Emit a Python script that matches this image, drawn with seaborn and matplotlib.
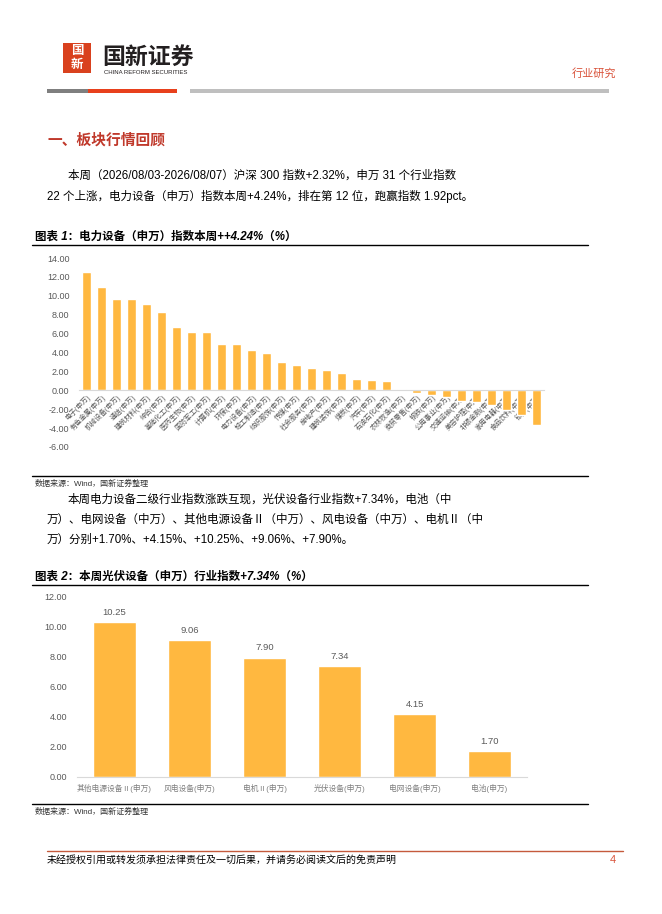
import matplotlib
matplotlib.use("Agg")
import matplotlib.pyplot as plt
import seaborn as sns
import pandas as pd
from matplotlib.patches import Rectangle
from matplotlib.lines import Line2D

# ---------------- data ----------------
industries = ["电子(申万)", "有色金属(申万)", "机械设备(申万)", "通信(申万)", "建筑材料(申万)",
              "综合(申万)", "基础化工(申万)", "医药生物(申万)", "国防军工(申万)", "计算机(申万)",
              "环保(申万)", "电力设备(申万)", "轻工制造(申万)", "纺织服饰(申万)", "传媒(申万)",
              "社会服务(申万)", "房地产(申万)", "建筑装饰(申万)", "煤炭(申万)", "汽车(申万)",
              "石油石化(申万)", "农林牧渔(申万)", "商贸零售(申万)", "钢铁(申万)", "公用事业(申万)",
              "交通运输(申万)", "美容护理(申万)", "非银金融(申万)", "家用电器(申万)", "食品饮料(申万)",
              "银行(申万)"]
weekly_chg = [12.47, 10.90, 9.65, 9.65, 9.13, 8.29, 6.72, 6.20, 6.20, 4.95,
              4.95, 4.24, 3.90, 2.96, 2.65, 2.34, 2.14, 1.82, 1.20, 1.09,
              0.99, 0.10, -0.32, -0.46, -0.67, -1.09, -1.20, -1.52, -2.08, -2.57,
              -3.63]
chart1_yticks = [-6, -4, -2, 0, 2, 4, 6, 8, 10, 12, 14]

sub_industries = ["其他电源设备Ⅱ(申万)", "风电设备(申万)", "电机Ⅱ(申万)",
                  "光伏设备(申万)", "电网设备(申万)", "电池(申万)"]
sub_chg = [10.25, 9.06, 7.90, 7.34, 4.15, 1.70]
chart2_yticks = [0, 2, 4, 6, 8, 10, 12]

# ---------------- style ----------------
sns.set_theme(style="white")
FONTS = ["Liberation Sans", "Noto Sans CJK SC", "DejaVu Sans"]
plt.rcParams["font.family"] = FONTS
plt.rcParams["axes.unicode_minus"] = False

BAR = "#FFB840"
GRAY_TXT = "#595959"
RED = "#D9411E"

W, H = 662, 914
fig = plt.figure(figsize=(W / 100, H / 100), dpi=100)


def fx(x):
    return x / W


def fy(y):
    return 1 - y / H


def hline(x0, x1, y, color="black", lw=1.0):
    fig.add_artist(Line2D([fx(x0), fx(x1)], [fy(y), fy(y)], color=color, lw=lw,
                          transform=fig.transFigure))


def rect(x0, y0, x1, y1, color):
    fig.add_artist(Rectangle((fx(x0), fy(y1)), fx(x1) - fx(x0), fy(y0) - fy(y1),
                             facecolor=color, edgecolor="none", transform=fig.transFigure))


def txt(x, y, s, size, color="black", weight="normal", ha="left", style="normal"):
    fig.text(fx(x), fy(y), s, fontsize=size, color=color, fontweight=weight,
             ha=ha, va="center", family=FONTS, style=style)


# ---------------- header ----------------
rect(63, 43, 91, 73, RED)
txt(77, 51, "国", 9, color="white", weight="bold", ha="center")
txt(77, 65, "新", 9, color="white", weight="bold", ha="center")
txt(102, 57, "国新证券", 16.5, color="#231F20", weight="bold")
txt(104, 73, "CHINA REFORM SECURITIES", 4.3, color="#231F20")
txt(616, 73, "行业研究", 8, color="#D9533B", ha="right")
rect(47, 89, 88, 93, "#7F7F7F")
rect(88, 89, 177, 93, "#E8401C")
rect(190, 89, 609, 93, "#BFBFBF")

# ---------------- section heading & paragraph ----------------
txt(47, 140, "一、板块行情回顾", 10.6, color="#C0392B", weight="bold")
txt(68, 176, "本周（2026/08/03-2026/08/07）沪深 300 指数+2.32%，申万 31 个行业指数", 8.3)
txt(47, 196, "22 个上涨，电力设备（申万）指数本周+4.24%，排在第 12 位，跑赢指数 1.92pct。", 8.3)

# ---------------- chart 1 ----------------
txt(35, 237, "图表 1：电力设备（申万）指数本周++4.24%（%）", 8.3, weight="bold", style="italic")
hline(32, 588, 245, lw=1.0)

df1 = pd.DataFrame({"industry": industries, "chg": weekly_chg})
ax1 = fig.add_axes([fx(79.2), fy(447), fx(544.2) - fx(79.2), fy(258) - fy(447)])
sns.barplot(data=df1, x="industry", y="chg", color=BAR, saturation=1, width=0.58, ax=ax1)
ax1.set_ylim(-6, 14)
ax1.set_xlim(-0.5, len(industries) - 0.5)
ax1.set_yticks(chart1_yticks)
ax1.set_yticklabels([f"{v:.2f}" for v in chart1_yticks], fontsize=6.5, color=GRAY_TXT)
ax1.set_xlabel("")
ax1.set_ylabel("")
for s in ["left", "top", "right"]:
    ax1.spines[s].set_visible(False)
ax1.spines["bottom"].set_position(("data", 0))
ax1.spines["bottom"].set_color("#D9D9D9")
ax1.spines["bottom"].set_linewidth(0.8)
ax1.tick_params(axis="both", length=0)
ax1.tick_params(axis="y", pad=7)
ax1.tick_params(axis="x", pad=2)
ax1.set_xticks(range(len(industries)))
ax1.set_xticklabels(industries, rotation=45, ha="right", rotation_mode="anchor",
                    fontsize=5, color=GRAY_TXT)
ax1.patch.set_alpha(0)
ax1.grid(False)

hline(32, 588, 476, lw=1.0)
txt(35, 484, "数据来源：Wind，国新证券整理", 5.8, color="#333333")

txt(68, 500, "本周电力设备二级行业指数涨跌互现，光伏设备行业指数+7.34%，电池（中", 8.3)
txt(47, 520, "万）、电网设备（中万）、其他电源设备Ⅱ（中万）、风电设备（中万）、电机Ⅱ（中", 8.3)
txt(47, 540, "万）分别+1.70%、+4.15%、+10.25%、+9.06%、+7.90%。", 8.3)

# ---------------- chart 2 ----------------
txt(35, 577, "图表 2：本周光伏设备（申万）行业指数+7.34%（%）", 8.3, weight="bold", style="italic")
hline(32, 588, 585, lw=1.0)

df2 = pd.DataFrame({"sub": sub_industries, "chg": sub_chg})
ax2 = fig.add_axes([fx(77), fy(777), fx(527) - fx(77), fy(596) - fy(777)])
sns.barplot(data=df2, x="sub", y="chg", color=BAR, saturation=1, width=0.57, ax=ax2)
ax2.set_ylim(0, 12)
ax2.set_xlim(-0.5, len(sub_industries) - 0.5)
ax2.set_yticks(chart2_yticks)
ax2.set_yticklabels([f"{v:.2f}" for v in chart2_yticks], fontsize=6.5, color=GRAY_TXT)
ax2.set_xlabel("")
ax2.set_ylabel("")
for s in ["left", "top", "right"]:
    ax2.spines[s].set_visible(False)
ax2.spines["bottom"].set_color("#D9D9D9")
ax2.spines["bottom"].set_linewidth(0.8)
ax2.tick_params(axis="both", length=0)
ax2.tick_params(axis="y", pad=7)
ax2.tick_params(axis="x", pad=5)
ax2.set_xticks(range(len(sub_industries)))
ax2.set_xticklabels(sub_industries, fontsize=5.6, color="#7F7F7F")
ax2.bar_label(ax2.containers[0], fmt="%.2f", padding=4, fontsize=6.8, color=GRAY_TXT)
ax2.patch.set_alpha(0)
ax2.grid(False)

hline(32, 588, 804, lw=1.0)
txt(35, 812, "数据来源：Wind，国新证券整理", 5.8, color="#333333")

# ---------------- footer ----------------
hline(47, 623, 851, color="#C55A3C", lw=1.0)
txt(47, 860, "未经授权引用或转发须承担法律责任及一切后果，并请务必阅读文后的免责声明", 7.2)
txt(616, 860, "4", 8, color="#D9533B", ha="right")

fig.savefig("out.png", dpi=100, facecolor="white")
